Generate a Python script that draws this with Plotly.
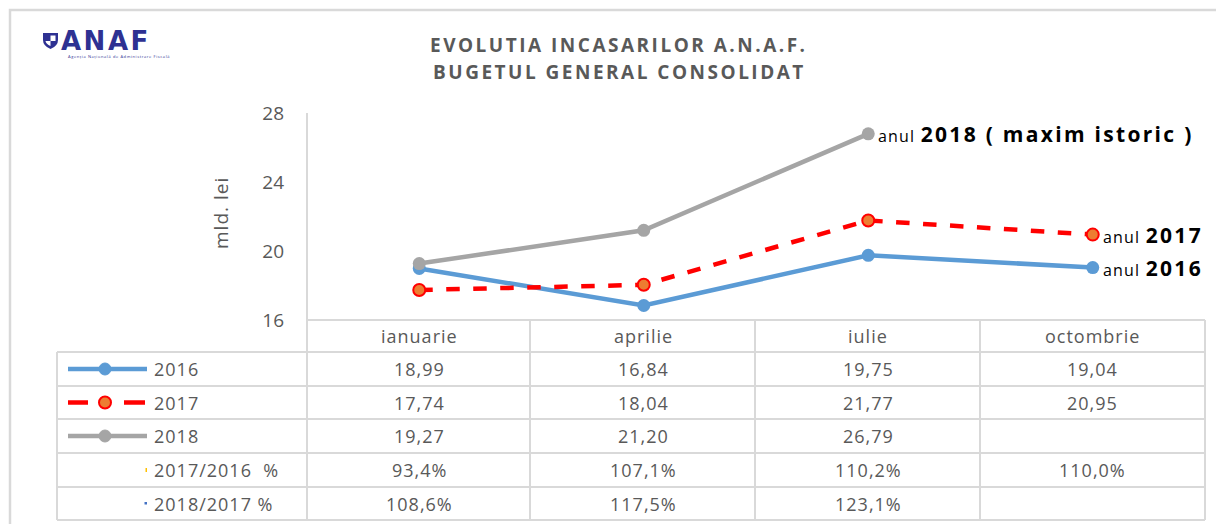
import plotly.graph_objects as go

# ---- data ----
months = ["ianuarie", "aprilie", "iulie", "octombrie"]
v2016 = [18.99, 16.84, 19.75, 19.04]
v2017 = [17.74, 18.04, 21.77, 20.95]
v2018 = [19.27, 21.20, 26.79, None]
pct_17_16 = [93.4, 107.1, 110.2, 110.0]
pct_18_17 = [108.6, 117.5, 123.1, None]
y_ticks = [16, 20, 24, 28]

OFF = 8  # page body margin
W, H = 1224 - OFF, 524 - OFF
# plot area in reference (page) pixel coordinates
L, R, T, B = 307, 1205, 113, 320


def px(x):
    return (x - L) / (R - L)


def py(y):
    return (B - y) / (B - T)


C16 = "#5b9bd5"
C17 = "#ff0000"
C17M = "#ed7d31"
C18 = "#a5a5a5"
GRID = "#d9d9d9"
TXT = "#595959"
FONT = "Open Sans"

fig = go.Figure()
fig.add_trace(go.Scatter(x=months, y=v2016, mode="lines+markers", name="2016",
                         line=dict(color=C16, width=4.5),
                         marker=dict(size=13, color=C16)))
fig.add_trace(go.Scatter(x=months, y=v2017, mode="lines+markers", name="2017",
                         line=dict(color=C17, width=4.5, dash="dash"),
                         marker=dict(size=12, color=C17M, line=dict(color=C17, width=2))))
fig.add_trace(go.Scatter(x=months, y=v2018, mode="lines+markers", name="2018",
                         line=dict(color=C18, width=4.5),
                         marker=dict(size=13, color=C18)))

shapes = []


def hline(x0, x1, y, color=GRID, w=2):
    shapes.append(dict(type="line", xref="paper", yref="paper",
                       x0=px(x0), x1=px(x1), y0=py(y), y1=py(y),
                       line=dict(color=color, width=w)))


def vline(x, y0, y1, color=GRID, w=2):
    shapes.append(dict(type="line", xref="paper", yref="paper",
                       x0=px(x), x1=px(x), y0=py(y0), y1=py(y1),
                       line=dict(color=color, width=w)))


# outer border
shapes.append(dict(type="rect", xref="paper", yref="paper",
                   x0=px(10), x1=px(1240), y0=py(10), y1=py(540),
                   line=dict(color=GRID, width=2.5)))

rows = [320, 352, 386, 419, 453, 487, 520]
cols = [307, 530, 755, 980, 1205]
hline(307, 1205, rows[0])
for y in rows[1:]:
    hline(57, 1205, y)
vline(57, rows[1], rows[-1])
for x in cols:
    vline(x, rows[0], rows[-1])
vline(307, 113, 320)

# legend samples in table
leg_y = [369, 402.5, 436]
leg_cols = [C16, C17, C18]
for i, (yy, c) in enumerate(zip(leg_y, leg_cols)):
    if i == 1:
        shapes.append(dict(type="line", xref="paper", yref="paper",
                           x0=px(68), x1=px(88), y0=py(yy), y1=py(yy),
                           line=dict(color=c, width=4.5)))
        shapes.append(dict(type="line", xref="paper", yref="paper",
                           x0=px(124), x1=px(145), y0=py(yy), y1=py(yy),
                           line=dict(color=c, width=4.5)))
        shapes.append(dict(type="circle", xref="paper", yref="paper",
                           x0=px(99), x1=px(111), y0=py(yy - 6), y1=py(yy + 6),
                           fillcolor=C17M, line=dict(color=C17, width=2)))
    else:
        shapes.append(dict(type="line", xref="paper", yref="paper",
                           x0=px(68), x1=px(147), y0=py(yy), y1=py(yy),
                           line=dict(color=c, width=4.5)))
        shapes.append(dict(type="circle", xref="paper", yref="paper",
                           x0=px(99), x1=px(111), y0=py(yy - 6), y1=py(yy + 6),
                           fillcolor=c, line=dict(color=c, width=1)))
# tiny markers
shapes.append(dict(type="rect", xref="paper", yref="paper",
                   x0=px(145.5), x1=px(147), y0=py(468), y1=py(472),
                   fillcolor="#ffc000", line=dict(width=0)))
shapes.append(dict(type="rect", xref="paper", yref="paper",
                   x0=px(144.5), x1=px(147), y0=py(502), y1=py(504.5),
                   fillcolor="#4472c4", line=dict(width=0)))

# ANAF shield
sx0, sx1, sy0, sy1 = 43, 58, 33, 49
mid = (sx0 + sx1) / 2
path = (f"M {px(sx0)},{py(sy0)} L {px(sx1)},{py(sy0)} L {px(sx1)},{py(sy0 + 7)} "
        f"Q {px(sx1)},{py(sy1 - 3)} {px(mid)},{py(sy1)} "
        f"Q {px(sx0)},{py(sy1 - 3)} {px(sx0)},{py(sy0 + 7)} Z")
shapes.append(dict(type="path", xref="paper", yref="paper", path=path,
                   fillcolor="#2e3192", line=dict(width=0)))
shapes.append(dict(type="rect", xref="paper", yref="paper",
                   x0=px(mid), x1=px(sx1 - 2.5), y0=py(sy0 + 2.5), y1=py(sy0 + 8),
                   fillcolor="white", line=dict(width=0)))
shapes.append(dict(type="path", xref="paper", yref="paper",
                   path=(f"M {px(sx0 + 2.5)},{py(sy0 + 8)} L {px(mid)},{py(sy0 + 8)} "
                         f"L {px(mid)},{py(sy1 - 3)} Q {px(sx0 + 3)},{py(sy1 - 5)} {px(sx0 + 2.5)},{py(sy0 + 8)} Z"),
                   fillcolor="white", line=dict(width=0)))

ann = []


def text(x, y, s, size=18, color=TXT, xanchor="center", xref="paper", bold=False,
         family=FONT, ls=1):
    body = f"<b>{s}</b>" if bold else s
    if ls:
        body = f"<span style='letter-spacing:{ls}px'>{body}</span>"
    ann.append(dict(x=(px(x) if xref == "paper" else x), y=py(y), xref=xref, yref="paper",
                    text=body, showarrow=False,
                    xanchor=xanchor, yanchor="middle",
                    font=dict(size=size, color=color, family=family)))


# title
text(619, 45, "EVOLUTIA INCASARILOR A.N.A.F.", size=19, bold=True, ls=2.5)
text(619, 72, "BUGETUL GENERAL CONSOLIDAT", size=19, bold=True, ls=2.5)

# logo text
text(59, 41, "ANAF", size=26, color="#2e3192", xanchor="left", bold=True,
     family="DejaVu Sans", ls=2.5)
text(66, 57, "Agenția Națională de Administrare Fiscală", size=4, color="#2e3192",
     xanchor="left", ls=0.6)

# y-axis title
ann.append(dict(x=px(221), y=py(213), xref="paper", yref="paper",
                text="<span style='letter-spacing:1px'>mld. lei</span>",
                showarrow=False, textangle=-90, xanchor="center", yanchor="middle",
                font=dict(size=19, color=TXT, family=FONT)))


def fmt2(v):
    return "" if v is None else f"{v:.2f}".replace(".", ",")


def fmtp(v):
    return "" if v is None else f"{v:.1f}%".replace(".", ",")


row_y = [336, 369, 402.5, 436, 470, 503.5]
for i, m in enumerate(months):
    text(m, row_y[0], m, xref="x")
    text(m, row_y[1], fmt2(v2016[i]), xref="x")
    text(m, row_y[2], fmt2(v2017[i]), xref="x")
    text(m, row_y[3], fmt2(v2018[i]), xref="x")
    text(m, row_y[4], fmtp(pct_17_16[i]), xref="x")
    text(m, row_y[5], fmtp(pct_18_17[i]), xref="x")

text(152, row_y[1], "2016", xanchor="left")
text(152, row_y[2], "2017", xanchor="left")
text(152, row_y[3], "2018", xanchor="left")
text(152, row_y[4], "2017/2016  %", xanchor="left")
text(152, row_y[5], "2018/2017 %", xanchor="left")


# end labels
def endlabel(xcat, yval, big):
    ann.append(dict(x=xcat, y=yval, xref="x", yref="y", xshift=8,
                    text=(f"<span style='font-size:16px;letter-spacing:1.2px'>anul </span>"
                          f"<span style='letter-spacing:2.3px'><b>{big}</b></span>"),
                    showarrow=False, xanchor="left", yanchor="middle",
                    font=dict(size=21, color="#000000", family=FONT)))


endlabel(months[2], v2018[2], "2018 ( maxim istoric )")
endlabel(months[3], v2017[3], "2017")
endlabel(months[3], v2016[3], "2016")

fig.update_layout(
    width=W, height=H,
    margin=dict(l=L - OFF, r=W - (R - OFF), t=T - OFF, b=H - (B - OFF)),
    paper_bgcolor="white", plot_bgcolor="white",
    showlegend=False,
    shapes=shapes, annotations=ann,
    font=dict(family=FONT, color=TXT),
    xaxis=dict(range=[-0.5, 3.5], showticklabels=False, showgrid=False,
               zeroline=False, showline=False, ticks=""),
    yaxis=dict(range=[16, 28], tickvals=y_ticks, showgrid=False, zeroline=False,
               showline=False, ticks="", ticklabelstandoff=22,
               tickfont=dict(size=19, color=TXT, family=FONT)),
)

fig.write_html("out.html")
